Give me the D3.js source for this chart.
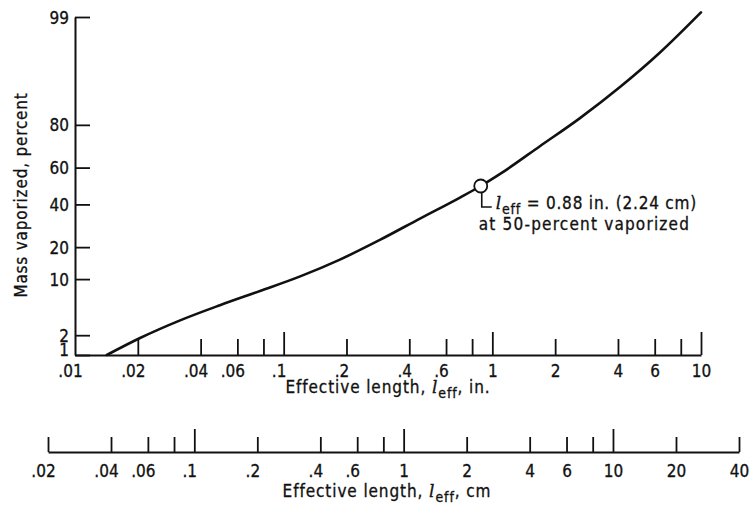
<!DOCTYPE html>
<html>
<head>
<meta charset="utf-8">
<script src="https://cdn.jsdelivr.net/npm/d3@7"></script>
<style>
  body { margin: 0; background: #fff; }
  svg { display: block; }
  text { font-family: "DejaVu Sans Condensed", "DejaVu Sans", sans-serif; fill: #111; stroke: #111; stroke-width: 0.3px; }
</style>
</head>
<body>
<svg id="chart" width="753" height="510"></svg>
<script>
// Effective length along the vaporization curve, inches
const lengthIn = [0.0142, 0.0205, 0.0319, 0.0495, 0.077, 0.120, 0.186, 0.289, 0.450, 0.700, 0.88, 1.09, 1.69, 2.63, 4.09, 6.36, 10.0];
// Mass vaporized at each of those lengths, percent
const massPct = [1.0, 1.82, 3.22, 5.04, 7.42, 10.67, 15.55, 22.9, 32.7, 43.7, 50.0, 56.6, 70.8, 82.5, 91.35, 96.7, 99.16];

// Probability axis ticks, percent
const pctTicks = [1, 2, 10, 20, 40, 60, 80, 99];
// Inch axis
const inchTicks = [0.02, 0.04, 0.06, 0.08, 0.1, 0.2, 0.4, 0.6, 0.8, 1, 2, 4, 6, 8, 10];
const inchLabels = [0.01, 0.02, 0.04, 0.06, 0.1, 0.2, 0.4, 0.6, 1, 2, 4, 6, 10];
const inchMajor = [0.1, 1, 10];
// Centimetre axis
const cmTicks = [0.02, 0.04, 0.06, 0.08, 0.1, 0.2, 0.4, 0.6, 0.8, 1, 2, 4, 6, 8, 10, 20, 40];
const cmLabels = [0.02, 0.04, 0.06, 0.1, 0.2, 0.4, 0.6, 1, 2, 4, 6, 10, 20, 40];
const cmMajor = [0.1, 1, 10];

// Point marked on the curve
const markIn = 0.88;
const markCm = 2.24;
const markPct = 50;

// Inverse of the standard normal CDF (Acklam's rational approximation)
function probit(p) {
  const a = [-3.969683028665376e+01, 2.209460984245205e+02, -2.759285104469687e+02, 1.383577518672690e+02, -3.066479806614716e+01, 2.506628277459239e+00];
  const b = [-5.447609879822406e+01, 1.615858368580409e+02, -1.556989798598866e+02, 6.680131188771972e+01, -1.328068155288572e+01];
  const c = [-7.784894002430293e-03, -3.223964580411365e-01, -2.400758277161838e+00, -2.549732539343734e+00, 4.374664141464968e+00, 2.938163982698783e+00];
  const d = [7.784695709041462e-03, 3.224671290700398e-01, 2.445134137142996e+00, 3.754408661907416e+00];
  const pl = 0.02425, ph = 1 - pl;
  let q, r;
  if (p < pl) {
    q = Math.sqrt(-2 * Math.log(p));
    return (((((c[0]*q + c[1])*q + c[2])*q + c[3])*q + c[4])*q + c[5]) / ((((d[0]*q + d[1])*q + d[2])*q + d[3])*q + 1);
  }
  if (p <= ph) {
    q = p - 0.5; r = q * q;
    return (((((a[0]*r + a[1])*r + a[2])*r + a[3])*r + a[4])*r + a[5])*q / (((((b[0]*r + b[1])*r + b[2])*r + b[3])*r + b[4])*r + 1);
  }
  q = Math.sqrt(-2 * Math.log(1 - p));
  return -(((((c[0]*q + c[1])*q + c[2])*q + c[3])*q + c[4])*q + c[5]) / ((((d[0]*q + d[1])*q + d[2])*q + d[3])*q + 1);
}

const svg = d3.select("#chart");
const INK = "#111";
const FS = 17;

// Scales
const x = d3.scaleLog().domain([0.01, 10]).range([75, 701]);
const xCm = d3.scaleLog().domain([0.02, 40]).range([48, 739]);
const z = d3.scaleLinear().domain([probit(0.01), probit(0.99)]).range([355, 17]);
const y = p => z(probit(p / 100));

const axisY = 355;
const cmAxisY = 452;

const fmt = v => v < 1 ? String(v).replace(/^0/, "") : String(v);

// ---- Probability (percent) axis ----
const gy = svg.append("g").attr("transform", `translate(${x(0.01)},0)`)
  .call(d3.axisLeft(z)
    .tickValues(pctTicks.map(p => probit(p / 100)))
    .tickFormat((d, i) => pctTicks[i])
    .tickSizeInner(-15).tickSizeOuter(0).tickPadding(6));
gy.select(".domain").attr("stroke", INK).attr("stroke-width", 2);
gy.selectAll(".tick line").attr("stroke", INK).attr("stroke-width", 1.8);
gy.selectAll(".tick text")
  .attr("font-size", FS).attr("font-family", null).attr("fill", INK)
  .attr("dy", (d, i) => i === 0 ? "0.02em" : "0.36em");

// ---- Inch axis ----
const gx = svg.append("g").attr("transform", `translate(0,${axisY})`)
  .call(d3.axisBottom(x).tickValues(inchTicks).tickFormat("").tickSizeInner(-16).tickSizeOuter(0));
gx.select(".domain").attr("stroke", INK).attr("stroke-width", 2);
gx.selectAll(".tick line").attr("stroke", INK).attr("stroke-width", 1.8)
  .attr("y2", d => inchMajor.includes(d) ? -23 : -16);

const gxl = svg.append("g").attr("transform", `translate(0,${axisY})`)
  .call(d3.axisBottom(x).tickValues(inchLabels).tickFormat(fmt).tickSize(0).tickPadding(10));
gxl.select(".domain").remove();
gxl.selectAll(".tick text")
  .attr("font-size", FS).attr("font-family", null).attr("fill", INK)
  .attr("dx", d => d < 1 ? -5 : 0);

// ---- Centimetre axis ----
const gc = svg.append("g").attr("transform", `translate(0,${cmAxisY})`)
  .call(d3.axisBottom(xCm).tickValues(cmTicks).tickFormat("").tickSizeInner(-15).tickSizeOuter(0));
gc.select(".domain").attr("stroke", INK).attr("stroke-width", 2);
gc.selectAll(".tick line").attr("stroke", INK).attr("stroke-width", 1.8)
  .attr("y2", d => cmMajor.includes(d) ? -23 : -15);

const gcl = svg.append("g").attr("transform", `translate(0,${cmAxisY})`)
  .call(d3.axisBottom(xCm).tickValues(cmLabels).tickFormat(fmt).tickSize(0).tickPadding(12.5));
gcl.select(".domain").remove();
gcl.selectAll(".tick text")
  .attr("font-size", FS).attr("font-family", null).attr("fill", INK)
  .attr("dx", d => d < 1 ? -5 : 0);

// ---- Axis titles ----
function lengthTitle(cx, by, unit) {
  const t = svg.append("text").attr("x", cx).attr("y", by)
    .attr("text-anchor", "middle").attr("font-size", FS).attr("letter-spacing", 0.9);
  t.append("tspan").text("Effective length,  ");
  t.append("tspan").attr("font-family", "DejaVu Serif").attr("font-style", "italic").text("l");
  t.append("tspan").attr("font-size", 14).attr("dy", 5).text("eff");
  t.append("tspan").attr("dy", -5).text(",  " + unit);
}
lengthTitle(388, 393, "in.");
lengthTitle(387, 497, "cm");

svg.append("text")
  .attr("transform", "translate(27,195) rotate(-90)")
  .attr("text-anchor", "middle").attr("font-size", FS).attr("letter-spacing", 0.8)
  .text("Mass vaporized, percent");

// ---- Curve ----
const pts = lengthIn.map((v, i) => [v, massPct[i]]);
svg.append("path")
  .datum(pts)
  .attr("fill", "none").attr("stroke", INK).attr("stroke-width", 2.6)
  .attr("stroke-linecap", "round").attr("stroke-linejoin", "round")
  .attr("d", d3.line().x(d => x(d[0])).y(d => y(d[1])).curve(d3.curveMonotoneX));

// ---- Marked point and note ----
const mx = x(markIn), my = y(markPct), mr = 6.5;
svg.append("path")
  .attr("fill", "none").attr("stroke", INK).attr("stroke-width", 1.6)
  .attr("d", `M${mx + 1},${my + mr} V${my + 21} H${mx + 11}`);
svg.append("circle")
  .attr("cx", mx).attr("cy", my).attr("r", mr)
  .attr("fill", "#fff").attr("stroke", INK).attr("stroke-width", 1.8);

const note = svg.append("text").attr("x", mx + 15).attr("y", my + 23).attr("font-size", FS).attr("letter-spacing", 0.8);
note.append("tspan").attr("font-family", "DejaVu Serif").attr("font-style", "italic").text("l");
note.append("tspan").attr("font-size", 14).attr("dy", 5).text("eff");
note.append("tspan").attr("dy", -5).text(` = ${markIn} in. (${markCm} cm)`);
svg.append("text").attr("x", mx - 2).attr("y", my + 44).attr("font-size", FS).attr("letter-spacing", 1.2)
  .text(`at ${markPct}-percent vaporized`);
</script>
</body>
</html>
